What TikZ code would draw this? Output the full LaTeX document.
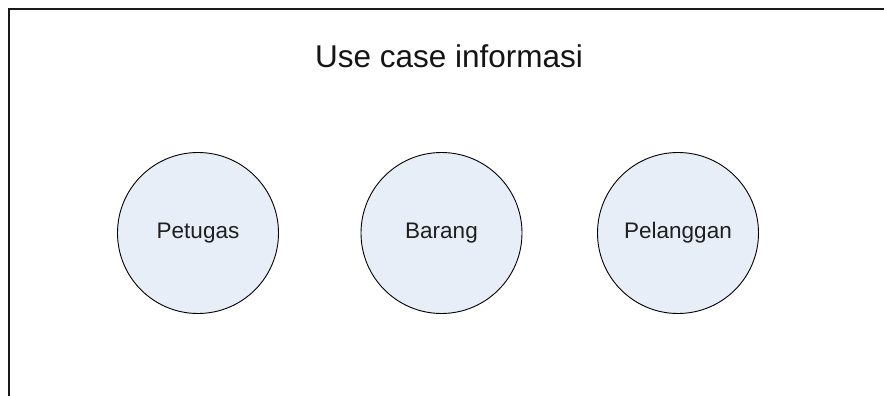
\documentclass[tikz,border=0pt]{standalone}
\usepackage{fontspec}
\setmainfont{Liberation Sans}
\begin{document}
\begin{tikzpicture}[x=1pt,y=-1pt,
  usecase/.style={circle,draw=black,line width=0.9pt,fill=ucfill,
    minimum size=161pt,inner sep=0pt,text=black!88,
    font=\fontsize{22.5}{27}\selectfont},
  frameline/.style={draw=black!90,line width=2pt},
  title/.style={anchor=base,inner sep=0pt,text=black!92,
    font=\fontsize{31.5}{38}\selectfont}]
\definecolor{ucfill}{RGB}{232,238,248}
\useasboundingbox (0,0) rectangle (884,396);
% open frame: top edge and left edge
\coordinate (ftr) at (884,9);
\coordinate (ftl) at (9,9);
\coordinate (fbl) at (9,396);
\draw[frameline] (ftr) -- (ftl) -- (fbl);
% heading
\node[title] (judul) at (449,67) {Use case informasi};
% use cases
\node[usecase] (petugas) at (198,233) {Petugas};
\node[usecase] (barang) at (441.5,233) {Barang};
\node[usecase] (pelanggan) at (678,233) {Pelanggan};
\end{tikzpicture}
\end{document}
